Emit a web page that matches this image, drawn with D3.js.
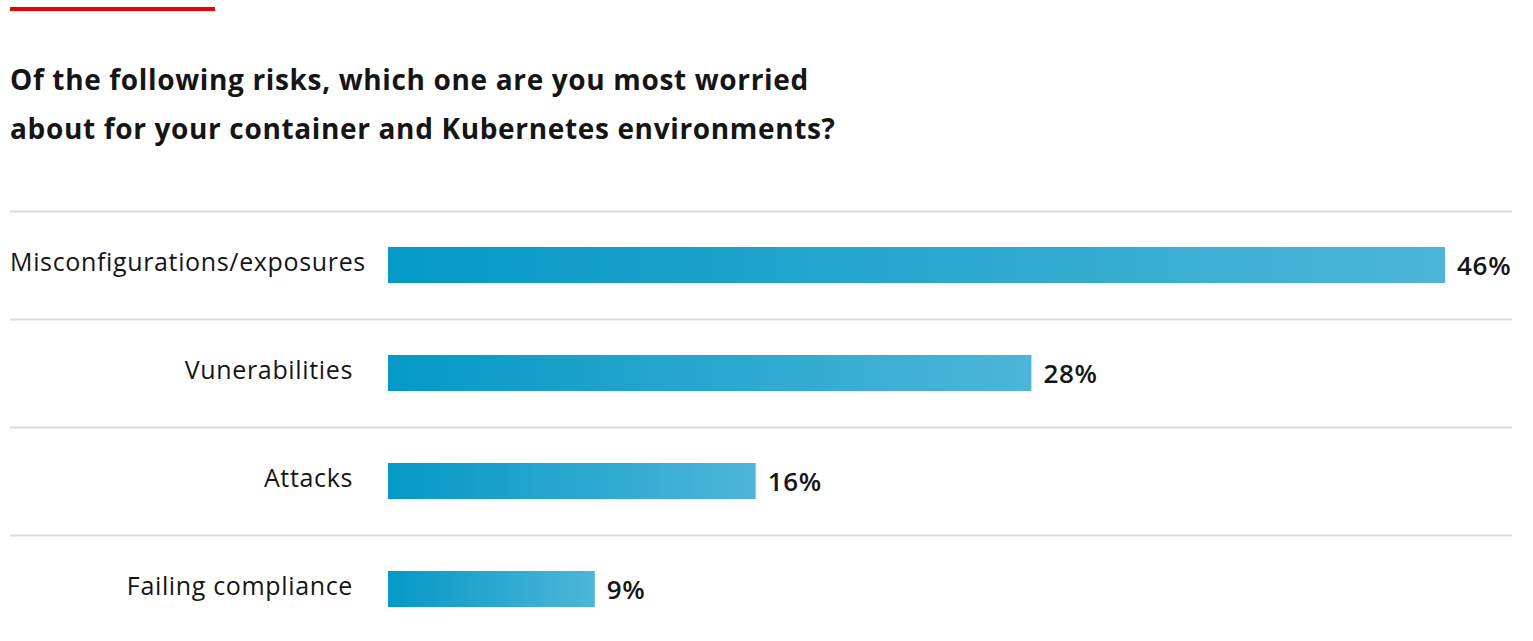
<!DOCTYPE html>
<html>
<head>
<meta charset="utf-8">
<script src="https://cdn.jsdelivr.net/npm/d3@7"></script>
<style>
  html, body { margin: 0; padding: 0; background: #ffffff; }
  svg { display: block; }
</style>
</head>
<body>
<svg id="chart" width="1533" height="641"></svg>
<script>
const categories = ["Misconfigurations/exposures", "Vunerabilities", "Attacks", "Failing compliance"];
const values = [46, 28, 16, 9];
const titleLines = [
  "Of the following risks, which one are you most worried",
  "about for your container and Kubernetes environments?"
];

const W = 1533, H = 641;
const svg = d3.select("#chart");
const FONT = "'Open Sans', 'Noto Sans', sans-serif";

// red accent line
svg.append("rect").attr("x", 10).attr("y", 7).attr("width", 205).attr("height", 4).attr("fill", "#ee0000");

// title
const title = svg.append("text")
  .attr("font-family", FONT).attr("font-weight", 700).attr("font-size", 28)
  .attr("letter-spacing", 0.65).attr("fill", "#151515");
titleLines.forEach((t, i) => {
  title.append("tspan").attr("x", 10).attr("y", 90 + i * 49).text(t);
});

// gradient
const defs = svg.append("defs");
const grad = defs.append("linearGradient").attr("id", "barGrad")
  .attr("x1", "0%").attr("x2", "100%").attr("y1", "0%").attr("y2", "0%");
grad.append("stop").attr("offset", "0%").attr("stop-color", "#0499c6");
grad.append("stop").attr("offset", "100%").attr("stop-color", "#4db6d8");

const x = d3.scaleLinear().domain([0, 46]).range([388, 1445]);
const y = d3.scaleBand().domain(categories).range([211, 643]).paddingInner(0).paddingOuter(0);
const barH = 36;

// separator lines
svg.selectAll("line.sep").data(categories).join("line")
  .attr("class", "sep")
  .attr("x1", 10).attr("x2", 1512)
  .attr("y1", d => y(d) + 0.5).attr("y2", d => y(d) + 0.5)
  .attr("stroke", "#dcdcdc").attr("stroke-width", 2);

const rows = categories.map((c, i) => ({ c, v: values[i] }));

svg.selectAll("rect.bar").data(rows).join("rect")
  .attr("class", "bar")
  .attr("x", x(0))
  .attr("y", d => y(d.c) + y.bandwidth() / 2 - barH / 2)
  .attr("width", d => x(d.v) - x(0))
  .attr("height", barH)
  .attr("fill", "url(#barGrad)");

// category labels
const labelRight = 353;
svg.selectAll("text.cat").data(rows).join("text")
  .attr("class", "cat")
  .attr("font-family", FONT).attr("font-size", 25).attr("letter-spacing", 0.65).attr("fill", "#151515")
  .attr("y", d => y(d.c) + y.bandwidth() / 2 + 6)
  .text(d => d.c)
  .each(function() {
    const w = this.getComputedTextLength();
    const sel = d3.select(this);
    if (labelRight - w < 10) sel.attr("x", 10).attr("text-anchor", "start");
    else sel.attr("x", labelRight).attr("text-anchor", "end");
  });

// value labels
svg.selectAll("text.val").data(rows).join("text")
  .attr("class", "val")
  .attr("font-family", FONT).attr("font-size", 26).attr("font-weight", 550)
  .attr("letter-spacing", 0.7).attr("fill", "#151515")
  .attr("x", d => x(d.v) + 12)
  .attr("y", d => y(d.c) + y.bandwidth() / 2 + 10)
  .text(d => d.v + "%");
</script>
</body>
</html>
